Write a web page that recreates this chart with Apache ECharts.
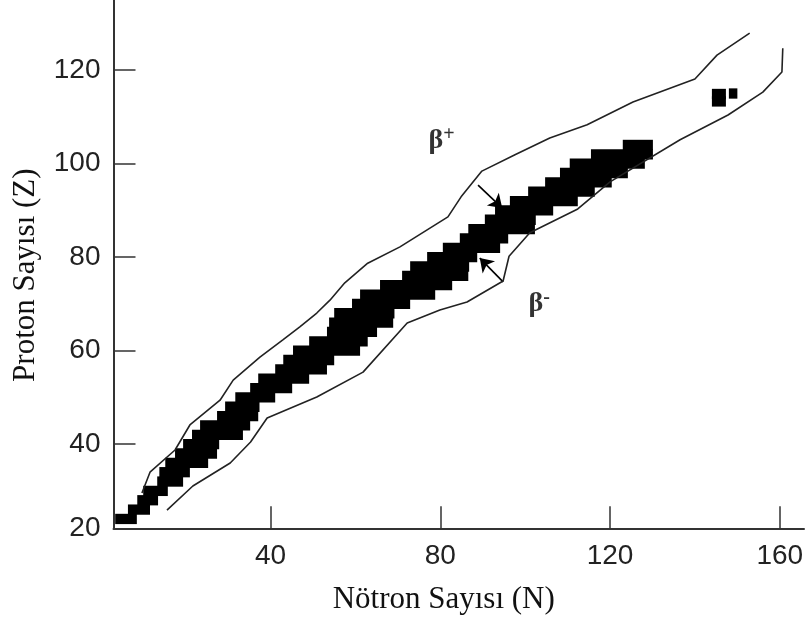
<!DOCTYPE html>
<html><head><meta charset="utf-8">
<script src="https://cdn.jsdelivr.net/npm/echarts@6/dist/echarts.min.js"></script>
<style>html,body{margin:0;padding:0;background:#fff}#c{width:811px;height:622px}</style>
</head><body><div id="c"></div>
<script>
// ---- data ----
const xTickValues = [40, 80, 120, 160];
const yTickValues = [40, 60, 80, 100, 120];
const yLabelValues = [22, 40, 60, 80, 100, 120];
const yLabelTexts = ['20', '40', '60', '80', '100', '120'];

// stable nuclei band: one row of squares per Z, from N low to N high
const bandZ   = [24, 26, 28, 30, 32, 34, 36, 38, 40, 42, 44, 46, 48, 50, 52, 54, 56, 58, 60, 62, 64, 66, 68, 70, 72, 74, 76, 78, 80, 82, 84, 86, 88, 90, 92, 94, 96, 98, 100, 102, 104, 113.3, 114.9, 115];
const bandNlo = [3.4, 6.4, 8.6, 10, 13.3, 13.8, 15.2, 17.5, 19.4, 21.5, 23.4, 27.4, 29.3, 31.7, 35.2, 37.1, 41.1, 43, 45.3, 49.1, 53.3, 53.8, 55, 59.2, 61.1, 65.8, 71, 72.9, 76.9, 80.6, 84.6, 86.6, 90.5, 92.9, 96.4, 100.7, 104.7, 108.2, 110.5, 115.5, 123, 144, 144, 148];
const bandNhi = [8.5, 11.6, 13.5, 15.8, 19.4, 21, 25.3, 27.4, 27.9, 33.5, 35.2, 37.1, 37.4, 41.1, 45.1, 49.1, 53.3, 55, 61.1, 62.9, 65.1, 68.9, 69.2, 72.9, 78.8, 82.8, 86.6, 86.8, 88.7, 94.1, 96, 102.3, 102.5, 106.6, 112.4, 116.4, 120.4, 124.2, 128.2, 130.1, 130.1, 147.3, 147.3, 150];

// beta+ (upper) boundary
const upperN = [9.7, 11.6, 17.5, 21.0, 28.1, 31.2, 37.5, 42.9, 46.9, 50.9, 54.0, 57.5, 62.9, 70.5, 81.8, 84.9, 89.8, 97.6, 105.8, 114.6, 125.4, 140.0, 145.2, 152.9];
const upperZ = [29.55, 34.0, 38.75, 44.1, 49.4, 53.7, 58.6, 62.3, 65.1, 68.05, 70.8, 74.5, 78.7, 82.2, 88.6, 92.9, 98.4, 101.9, 105.5, 108.3, 113.2, 118.1, 123.2, 127.9];
// beta- (lower) boundary
const lowerN = [15.6, 21.7, 30.5, 35.3, 39.2, 50.9, 61.8, 72.2, 79.9, 86.3, 94.8, 96.2, 101.1, 112.4, 120.0, 136.5, 147.8, 156.0, 160.5, 160.7];
const lowerZ = [25.9, 31.05, 35.97, 40.46, 45.6, 50.1, 55.4, 65.9, 68.7, 70.4, 74.9, 80.2, 85.2, 90.3, 96.1, 105.1, 110.4, 115.3, 119.6, 124.7];

// arrows
const arrowFromN = [88.9, 94.8];
const arrowFromZ = [95.4, 74.7];
const arrowToN   = [94.6, 89.3];
const arrowToZ   = [90.5, 79.8];

// annotations
const noteN = [80.3, 103.3];
const noteZ = [105.1, 70.2];
const noteSup = ['+', '-'];

// ---- chart ----
const axisColor = '#333';
const chart = echarts.init(document.getElementById('c'), null, {renderer: 'canvas'});

const bandData = bandZ.map((z, i) => [bandNlo[i], bandNhi[i], z]);
const upperData = upperN.map((n, i) => [n, upperZ[i]]);
const lowerData = lowerN.map((n, i) => [n, lowerZ[i]]);
const arrowData = arrowFromN.map((n, i) => ({coords: [[n, arrowFromZ[i]], [arrowToN[i], arrowToZ[i]]]}));
const noteData = noteN.map((n, i) => ({value: [n, noteZ[i]], sup: noteSup[i]}));

chart.setOption({
  animation: false,
  backgroundColor: '#fff',
  grid: {left: 113.5, right: 7, top: 0, bottom: 93.7, containLabel: false},
  xAxis: {
    type: 'value', min: 3, max: 165.7,
    splitLine: {show: false},
    axisLine: {show: true, onZero: false, lineStyle: {color: axisColor, width: 2}},
    axisTick: {show: true, inside: true, length: 22, customValues: xTickValues, lineStyle: {color: axisColor, width: 1.5}},
    axisLabel: {show: true, customValues: xTickValues, margin: 14, fontFamily: 'Liberation Sans', fontSize: 28, color: '#222'},
    name: 'Nötron Sayısı (N)', nameLocation: 'middle', nameGap: 56,
    nameTextStyle: {fontFamily: 'Liberation Serif', fontSize: 31, color: '#111', padding: [0, 30, 0, 0]}
  },
  yAxis: {
    type: 'value', min: 22, max: 135,
    splitLine: {show: false},
    axisLine: {show: true, onZero: false, lineStyle: {color: axisColor, width: 2}},
    axisTick: {show: true, inside: true, length: 22, customValues: yTickValues, lineStyle: {color: axisColor, width: 1.5}},
    axisLabel: {show: true, customValues: yLabelValues, margin: 13, fontFamily: 'Liberation Sans', fontSize: 28, color: '#222',
      formatter: v => yLabelTexts[yLabelValues.indexOf(v)] ?? String(v)},
    name: 'Proton Sayısı (Z)', nameLocation: 'middle', nameGap: 72,
    nameTextStyle: {fontFamily: 'Liberation Serif', fontSize: 31, color: '#111', padding: [0, 22, 0, 0]}
  },
  series: [
    {
      type: 'custom', name: 'band', data: bandData, encode: {x: [0, 1], y: 2},
      renderItem: (params, api) => {
        const p0 = api.coord([api.value(0), api.value(2) + 1.1]);
        const p1 = api.coord([api.value(1), api.value(2) - 1.1]);
        return {type: 'rect', shape: {x: p0[0], y: p0[1], width: p1[0] - p0[0], height: p1[1] - p0[1]}, style: {fill: '#000'}};
      }
    },
    {type: 'line', data: upperData, symbol: 'none', lineStyle: {color: '#222', width: 1.6}},
    {type: 'line', data: lowerData, symbol: 'none', lineStyle: {color: '#222', width: 1.6}},
    {type: 'lines', coordinateSystem: 'cartesian2d', data: arrowData, symbol: ['none', 'arrow'], symbolSize: 13,
      lineStyle: {color: '#000', width: 1.6, opacity: 1}},
    {type: 'scatter', data: noteData, symbolSize: 0,
      label: {show: true, position: 'inside',
        formatter: p => '{b|β}{s|' + p.data.sup + '}',
        rich: {
          b: {fontFamily: 'Liberation Serif', fontWeight: 'bold', fontSize: 28, color: '#000', verticalAlign: 'bottom', lineHeight: 30},
          s: {fontFamily: 'Liberation Serif', fontWeight: 'bold', fontSize: 20, color: '#000', verticalAlign: 'top', lineHeight: 18}
        }}}
  ]
});
</script>
</body></html>
